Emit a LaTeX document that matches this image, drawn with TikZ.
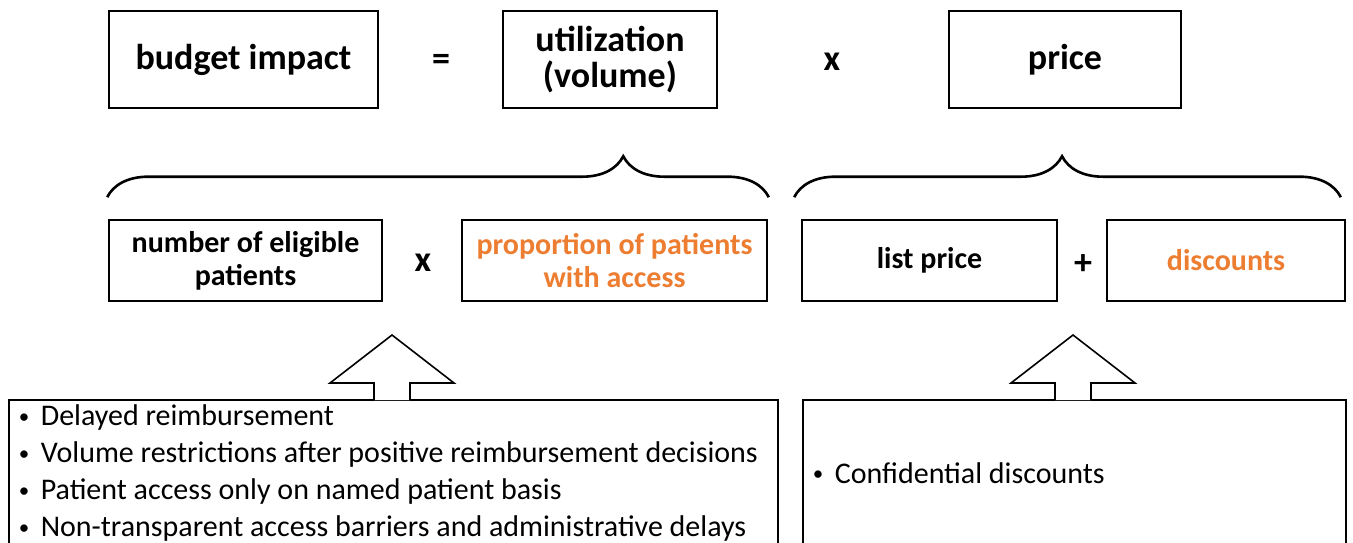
\documentclass[tikz,border=0pt]{standalone}
\usepackage{fontspec}
\setmainfont{Carlito}
\usepackage{xcolor}
\usepackage{graphicx}
\usetikzlibrary{decorations.pathreplacing, calc}

\definecolor{accent}{HTML}{ED7D31}
\newcommand{\bul}{\makebox[12pt][l]{\hspace{1pt}\raisebox{0.15ex}{\scalebox{0.7}{\textbullet}}}}

\begin{document}
\begin{tikzpicture}[x=0.5pt, y=-0.5pt,
    topbox/.style={draw, line width=0.8pt, minimum height=48.5pt, align=center, font=\fontsize{18}{18}\selectfont\bfseries},
    midbox/.style={draw, line width=0.8pt, minimum height=40.5pt, align=center, font=\fontsize{15}{16.5}\selectfont\bfseries},
    op/.style={font=\fontsize{18}{18}\selectfont\bfseries},
    listbox/.style={draw, line width=0.8pt, anchor=north west, align=flush left, inner xsep=4pt, inner ysep=2.5pt, font=\fontsize{15}{18.5}\selectfont},
    uparrow/.style={draw, fill=white, line width=0.8pt, line join=miter}]
    \path[use as bounding box, clip] (0, 0) rectangle (1353, 542);

    \node[topbox, minimum width=134.5pt] at (243.5, 59.5) (budget) {budget impact};
    \node[op] at (441, 62) (eq) {=};
    \node[topbox, minimum width=107pt] at (610, 59.5) (util) {utilization\\(volume)};
    \node[op] at (832, 62) (times) {x};
    \node[topbox, minimum width=116pt] at (1065, 59.5) (price) {price};

    \node[midbox, minimum width=136.5pt] at (245.5, 260.5) (number) {number of eligible\\patients};
    \node[op] at (423, 263) (times2) {x};
    \node[midbox, minimum width=152.5pt, text=accent] at (614.5, 260.5) (share) {proportion of patients\\with access};
    \node[midbox, minimum width=127.5pt] at (929.5, 260.5) (list) {list price};
    \node[op] at (1083, 265) (plus) {+};
    \node[midbox, minimum width=119pt, text=accent] at (1226, 260.5) (disc) {discounts};

    \draw[decorate, decoration={brace, amplitude=20.5pt, aspect=0.78}, line width=1.3pt]
        ($(number.north west)+(-1, -22)$) -- ($(share.north east)+(1, -22)$);
    \draw[decorate, decoration={brace, amplitude=20.5pt, aspect=0.49}, line width=1.3pt]
        ($(list.north west)+(-7, -22)$) -- ($(disc.north east)+(-5, -22)$);

    \node[listbox, text width=376.5pt] at (8, 399) (access) {\bul Delayed reimbursement\\
        \bul Volume restrictions after positive reimbursement decisions\\
        \bul Patient access only on named patient basis\\
        \bul Non-transparent access barriers and administrative delays};
    \node[listbox, text width=263.5pt, minimum height=73pt] at (802, 399) (conf) {\bul Confidential discounts};

    % block arrows from the lists up to the factors
    \coordinate (baseL) at (392, 399);
    \coordinate (baseR) at (1073, 399);
    \draw[uparrow] (baseL) ++(-18, 1) -- ++(0, -17) -- ++(-44, 0) -- ++(62, -48) -- ++(62, 48) -- ++(-44, 0) -- ++(0, 17);
    \draw[uparrow] (baseR) ++(-18, 1) -- ++(0, -17) -- ++(-44, 0) -- ++(62, -48) -- ++(62, 48) -- ++(-44, 0) -- ++(0, 17);
\end{tikzpicture}
\end{document}
